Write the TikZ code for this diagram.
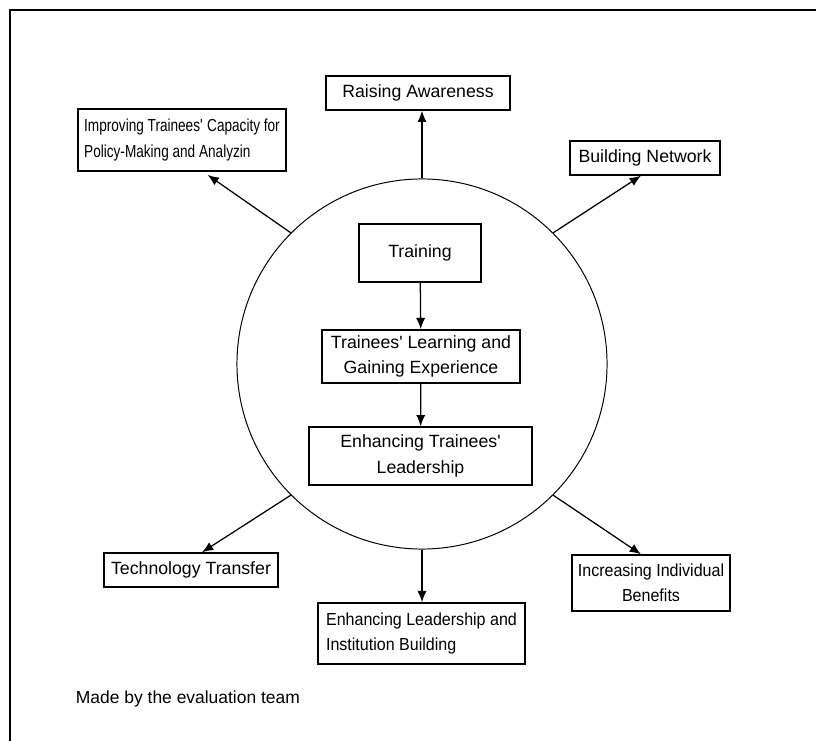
\documentclass[tikz,border=0pt]{standalone}
\usepackage{fontspec}
\setmainfont{Liberation Sans}
\newfontfamily\narrowfont[FakeStretch=0.78]{Liberation Sans}
\newfontfamily\slimfont[FakeStretch=0.92]{Liberation Sans}
\usepackage{tikz}
\usetikzlibrary{shapes.geometric,arrows.meta,positioning,calc}

\tikzset{
  box/.style={draw, line width=1pt, inner sep=2pt, align=center,
    font=\fontsize{12.6}{18}\selectfont},
  flow/.style={-{Latex[length=8pt,width=6.5pt]}, line width=0.9pt}
}

\begin{document}
\begin{tikzpicture}[x=0.025cm, y=-0.025cm]
\useasboundingbox (0,0) rectangle (816,741);
\draw[line width=1.3pt] (10,741) -- (10,10) -- (816,10);
% circle with the inner chain
\node[circle, draw, line width=0.7pt, minimum size=9.25cm] (hub) at (422,364) {};
\node[box, minimum width=3.05cm, minimum height=1.45cm] (training) at (420,253) {Training};
\node[box, minimum width=4.95cm, minimum height=1.33cm] (learning) at (421,356.5) {Trainees\textquotesingle{} Learning and\\Gaining Experience};
\node[box, minimum width=5.58cm, minimum height=1.45cm] (leader) at (420.5,456) {Enhancing Trainees\textquotesingle\\Leadership};
\draw[flow] (training) -- (learning);
\draw[flow] (learning) -- (leader);
% outcomes
\node[box, minimum width=4.6cm, minimum height=0.85cm] (raise) at (418,93) {Raising Awareness};
\node[box, minimum width=5.2cm, minimum height=1.55cm, align=left, font=\narrowfont\fontsize{12.4}{18}\selectfont] (policy) at (182,140) {Improving Trainees\textquotesingle{} Capacity for\\Policy-Making and Analyzin};
\node[box, minimum width=3.75cm, minimum height=0.85cm] (network) at (645,158) {Building Network};
\node[box, minimum width=4.35cm, minimum height=0.85cm] (transfer) at (191,570) {Technology Transfer};
\node[box, minimum width=5.18cm, minimum height=1.53cm, align=left, font=\slimfont\fontsize{12.4}{18}\selectfont] (institution) at (421.5,633.5) {Enhancing Leadership and\\Institution Building};
\node[box, minimum width=3.95cm, minimum height=1.4cm, font=\slimfont\fontsize{12.4}{18}\selectfont] (benefit) at (651,583) {Increasing Individual\\Benefits};
\draw[flow] (hub.north) -- (hub.north |- raise.south);
\draw[flow, shorten >=4pt] (hub.135) -- ([xshift=0.525cm]policy.south);
\draw[flow] (hub.45) -- ([xshift=-0.1cm]network.south);
\draw[flow] (hub.225) -- ([xshift=0.275cm]transfer.north);
\draw[flow] (hub.south) -- (hub.south |- institution.north);
\draw[flow] (hub.315) -- ([xshift=-0.25cm]benefit.north);
\node[anchor=base west, font=\fontsize{12.4}{15}\selectfont] (note) at (71,703) {Made by the evaluation team};
\end{tikzpicture}
\end{document}
